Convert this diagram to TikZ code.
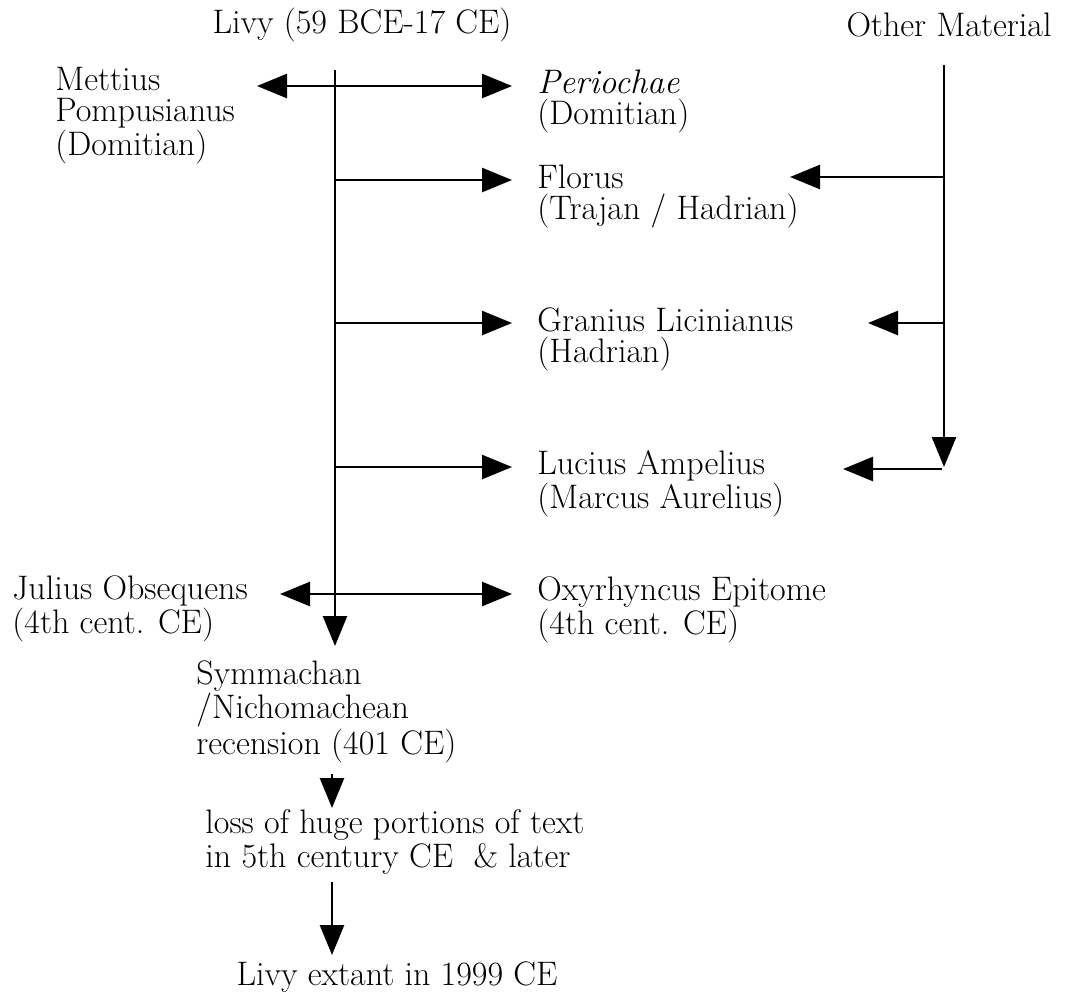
\documentclass[tikz,border=0pt]{standalone}
\usetikzlibrary{arrows.meta}
\begin{document}
\begin{tikzpicture}[x=0.5pt,y=-0.5pt,
  lbl/.style={inner sep=0pt, anchor=west, align=left, font=\fontsize{17}{15.5}\selectfont},
  arr/.style={-{Triangle[length=15pt,width=12pt]}, line width=1.3pt},
  biarr/.style={{Triangle[length=15pt,width=12pt]}-{Triangle[length=15pt,width=12pt]}, line width=1.3pt}]
\useasboundingbox (0,0) rectangle (1076,992);

\node (livy) at (362,25) [lbl, anchor=center]{Livy (59 BCE-17 CE)};
\node (other) at (949,25) [lbl, anchor=center]{Other Material};

\node (mett) at (55,116) [lbl]{Mettius\\Pompusianus\\(Domitian)};
\node (peri) at (537,101) [lbl]{\textit{Periochae}\\(Domitian)};
\node (flor) at (537,196) [lbl]{Florus\\(Trajan / Hadrian)};
\node (gran) at (537,339) [lbl]{Granius Licinianus\\(Hadrian)};
\node (luc) at (537,484) [lbl]{Lucius Ampelius\\(Marcus Aurelius)};

\node (jul) at (12,609) [lbl]{Julius Obsequens\\(4th cent. CE)};
\node (oxy) at (537,610) [lbl]{Oxyrhyncus Epitome\\(4th cent. CE)};

\node (sym) at (196,712) [lbl]{Symmachan\\/Nichomachean\\recension (401 CE)};
\node (loss) at (205,842) [lbl]{loss of huge portions of text\\in 5th century CE \ \& later};
\node (ext) at (397,977) [lbl, anchor=center]{Livy extant in 1999 CE};

% Livy trunk
\coordinate (top) at (335,70);
\coordinate (b1) at (335,86);
\coordinate (b2) at (335,180);
\coordinate (b3) at (335,323);
\coordinate (b4) at (335,467);
\coordinate (b5) at (335,594);
\coordinate (bot) at (335,646);
\coordinate (mtip) at (257,86);
\coordinate (jtip) at (280,594);

\draw [arr] (top) -- (bot);
\draw [biarr, shorten >=12.5pt] (mtip) -- (b1 -| peri.west);
\draw [arr, shorten >=12.5pt] (b2) -- (b2 -| flor.west);
\draw [arr, shorten >=12.5pt] (b3) -- (b3 -| gran.west);
\draw [arr, shorten >=12.5pt] (b4) -- (b4 -| luc.west);
\draw [biarr, shorten >=12.5pt] (jtip) -- (b5 -| oxy.west);

% other material trunk
\coordinate (otop) at (944,65);
\coordinate (c1) at (944,177);
\coordinate (c2) at (944,323);
\coordinate (c3) at (944,467);
\coordinate (ftip) at (790,177);
\coordinate (gtip) at (868,323);
\coordinate (ltip) at (843,469);

\draw [arr] (otop) -- (c3);
\draw [arr] (c1) -- (ftip);
\draw [arr] (c2) -- (gtip);
\draw [arr] (942,469) -- (ltip);

% down the line
\coordinate (s1) at (332,774);
\coordinate (s2) at (332,808);
\coordinate (s3) at (332,882);
\coordinate (s4) at (332,955);
\draw [arr] (s1) -- (s2);
\draw [arr] (s3) -- (s4);

\end{tikzpicture}
\end{document}
